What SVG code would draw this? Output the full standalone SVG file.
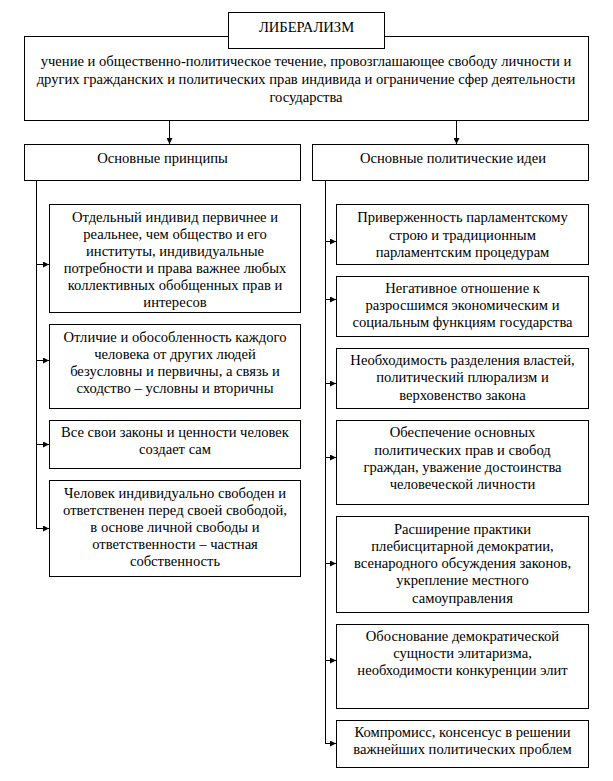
<svg xmlns="http://www.w3.org/2000/svg" width="613" height="781" viewBox="0 0 613 781">
<defs>
<style>
.box{fill:#fff;stroke:#000;stroke-width:1}
.t{font-family:"Liberation Serif","Times New Roman",serif;font-size:14.6px;fill:#000;text-anchor:middle}
.c{fill:none;stroke:#000;stroke-width:1}
</style>
<marker id="ah" viewBox="0 0 6 6" refX="6" refY="3" markerWidth="6" markerHeight="6" markerUnits="userSpaceOnUse" orient="auto">
<path d="M0,0 L6,3 L0,6 Z" fill="#000"/>
</marker>
</defs>
<rect width="613" height="781" fill="#fff"/>
<g id="connectors">
<line class="c" x1="169.5" y1="120" x2="169.5" y2="144" marker-end="url(#ah)"/>
<line class="c" x1="456.5" y1="120" x2="456.5" y2="144" marker-end="url(#ah)"/>
<polyline class="c" points="36.5,180 36.5,528.5"/>
<line class="c" x1="36" y1="264.5" x2="49" y2="264.5" marker-end="url(#ah)"/>
<line class="c" x1="36" y1="360.5" x2="49" y2="360.5" marker-end="url(#ah)"/>
<line class="c" x1="36" y1="444.5" x2="49" y2="444.5" marker-end="url(#ah)"/>
<line class="c" x1="36" y1="528.5" x2="49" y2="528.5" marker-end="url(#ah)"/>
<polyline class="c" points="325.5,180 325.5,743.5"/>
<line class="c" x1="325" y1="241.5" x2="336" y2="241.5" marker-end="url(#ah)"/>
<line class="c" x1="325" y1="299.5" x2="336" y2="299.5" marker-end="url(#ah)"/>
<line class="c" x1="325" y1="383.5" x2="336" y2="383.5" marker-end="url(#ah)"/>
<line class="c" x1="325" y1="457.5" x2="336" y2="457.5" marker-end="url(#ah)"/>
<line class="c" x1="325" y1="563.5" x2="336" y2="563.5" marker-end="url(#ah)"/>
<line class="c" x1="325" y1="660.5" x2="336" y2="660.5" marker-end="url(#ah)"/>
<line class="c" x1="325" y1="743.5" x2="336" y2="743.5" marker-end="url(#ah)"/>
</g>
<g id="definition">
<rect class="box" x="24.5" y="36.5" width="564" height="84"/>
<text class="t"><tspan x="306" y="66">учение и общественно-политическое течение, провозглашающее свободу личности и</tspan><tspan x="306" y="84">других гражданских и политических прав индивида и ограничение сфер деятельности</tspan><tspan x="306" y="102">государства</tspan></text>
</g>
<g id="title">
<rect class="box" x="228.5" y="12.5" width="156" height="36"/>
<text class="t" x="306.5" y="32">ЛИБЕРАЛИЗМ</text>
</g>
<g id="principles">
<rect class="box" x="24.5" y="144.5" width="276" height="36"/>
<text class="t" x="162.5" y="163">Основные принципы</text>
</g>
<g id="ideas">
<rect class="box" x="312.5" y="144.5" width="276" height="36"/>
<text class="t" x="453" y="163">Основные политические идеи</text>
</g>
<g id="p1">
<rect class="box" x="49.5" y="204.5" width="251" height="108"/>
<text class="t"><tspan x="175" y="222">Отдельный индивид первичнее и</tspan><tspan x="175" y="239">реальнее, чем общество и его</tspan><tspan x="175" y="256">институты, индивидуальные</tspan><tspan x="175" y="273">потребности и права важнее любых</tspan><tspan x="175" y="290">коллективных обобщенных прав и</tspan><tspan x="175" y="307">интересов</tspan></text>
</g>
<g id="p2">
<rect class="box" x="49.5" y="324.5" width="251" height="84"/>
<text class="t"><tspan x="175" y="342">Отличие и обособленность каждого</tspan><tspan x="175" y="359">человека от других людей</tspan><tspan x="175" y="376">безусловны и первичны, а связь и</tspan><tspan x="175" y="393">сходство – условны и вторичны</tspan></text>
</g>
<g id="p3">
<rect class="box" x="49.5" y="420.5" width="251" height="48"/>
<text class="t"><tspan x="175" y="437">Все свои законы и ценности человек</tspan><tspan x="175" y="454">создает сам</tspan></text>
</g>
<g id="p4">
<rect class="box" x="49.5" y="480.5" width="251" height="96"/>
<text class="t"><tspan x="175" y="498">Человек индивидуально свободен и</tspan><tspan x="175" y="515">ответственен перед своей свободой,</tspan><tspan x="175" y="532">в основе личной свободы и</tspan><tspan x="175" y="549">ответственности – частная</tspan><tspan x="175" y="566">собственность</tspan></text>
</g>
<g id="i1">
<rect class="box" x="336.5" y="204.5" width="252" height="60"/>
<text class="t"><tspan x="462.5" y="222">Приверженность парламентскому</tspan><tspan x="462.5" y="239.5">строю и традиционным</tspan><tspan x="462.5" y="257">парламентским процедурам</tspan></text>
</g>
<g id="i2">
<rect class="box" x="336.5" y="276.5" width="252" height="60"/>
<text class="t"><tspan x="462.5" y="293">Негативное отношение к</tspan><tspan x="462.5" y="310">разросшимся экономическим и</tspan><tspan x="462.5" y="327">социальным функциям государства</tspan></text>
</g>
<g id="i3">
<rect class="box" x="336.5" y="348.5" width="252" height="60"/>
<text class="t"><tspan x="462.5" y="365">Необходимость разделения властей,</tspan><tspan x="462.5" y="382">политический плюрализм и</tspan><tspan x="462.5" y="400">верховенство закона</tspan></text>
</g>
<g id="i4">
<rect class="box" x="336.5" y="420.5" width="252" height="84"/>
<text class="t"><tspan x="462.5" y="437">Обеспечение основных</tspan><tspan x="462.5" y="455">политических прав и свобод</tspan><tspan x="462.5" y="472">граждан, уважение достоинства</tspan><tspan x="462.5" y="489">человеческой личности</tspan></text>
</g>
<g id="i5">
<rect class="box" x="336.5" y="516.5" width="252" height="96"/>
<text class="t"><tspan x="462.5" y="534">Расширение практики</tspan><tspan x="462.5" y="551">плебисцитарной демократии,</tspan><tspan x="462.5" y="568">всенародного обсуждения законов,</tspan><tspan x="462.5" y="585">укрепление местного</tspan><tspan x="462.5" y="603">самоуправления</tspan></text>
</g>
<g id="i6">
<rect class="box" x="336.5" y="624.5" width="252" height="84"/>
<text class="t"><tspan x="462.5" y="641">Обоснование демократической</tspan><tspan x="462.5" y="658">сущности элитаризма,</tspan><tspan x="462.5" y="675">необходимости конкуренции элит</tspan></text>
</g>
<g id="i7">
<rect class="box" x="336.5" y="720.5" width="252" height="47"/>
<text class="t"><tspan x="462.5" y="737">Компромисс, консенсус в решении</tspan><tspan x="462.5" y="754">важнейших политических проблем</tspan></text>
</g>
</svg>
